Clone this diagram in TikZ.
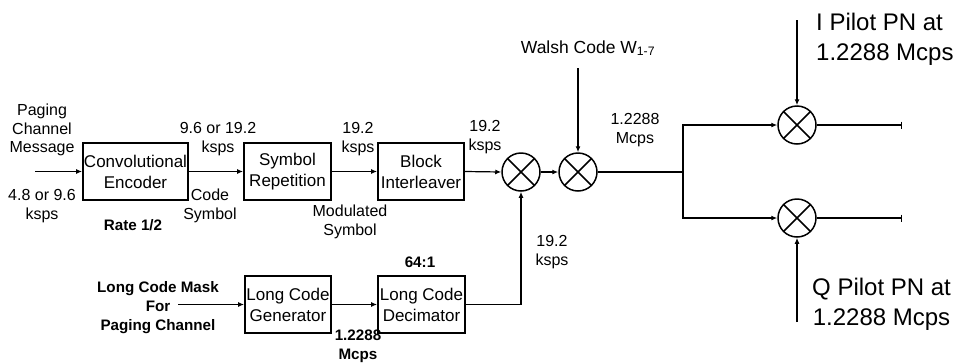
\documentclass[tikz,border=0pt]{standalone}
\usepackage{fontspec}
\setmainfont{Liberation Sans}
\usetikzlibrary{arrows.meta}
\begin{document}
\begin{tikzpicture}[x=1pt,y=-1pt,
  blk/.style={draw, line width=1.7pt, minimum height=57pt, align=center, inner sep=0pt,
    font=\fontsize{17}{21}\selectfont},
  mix/.style={draw, circle, line width=1.5pt, minimum size=38pt, inner sep=0pt,
    path picture={\draw[line width=1.5pt] (path picture bounding box.south west) -- (path picture bounding box.north east)
      (path picture bounding box.north west) -- (path picture bounding box.south east);}},
  lbl/.style={align=center, inner sep=0pt, font=\fontsize{16}{18.5}\selectfont},
  blbl/.style={align=center, inner sep=0pt, font=\fontsize{15.2}{19}\selectfont\bfseries},
  big/.style={align=left, inner sep=0pt, font=\fontsize{24}{30}\selectfont},
  conn/.style={line width=1.2pt},
  arr/.style={conn, -{Latex[length=6pt,width=5pt]}},
  endbar/.style={conn, -{Bar[width=7pt,line width=1.2pt]}}
]
\path[use as bounding box] (0,0) rectangle (961,362);

% top chain
\node[lbl] (pcm) at (42,130) {Paging\\Channel\\Message};
\node[lbl] (inrate) at (42,206) {4.8 or 9.6\\ksps};
\coordinate (inL) at (35,171.5);
\node[blk, minimum width=105pt] (conv) at (135.5,171.5) {Convolutional\\Encoder};
\node[blbl] (rate) at (133,225) {Rate 1/2};
\node[lbl] (r1) at (218,139) {9.6 or 19.2\\ksps};
\node[lbl] (cs) at (210,206) {Code\\Symbol};
\node[blk, minimum width=87pt] (rep) at (287.5,171.5) {Symbol\\Repetition};
\node[lbl] (r2) at (358,139) {19.2\\ksps};
\node[lbl] (ms) at (350,222) {Modulated\\Symbol};
\node[blk, minimum width=86pt] (blkint) at (421,171.5) {Block\\Interleaver};
\node[lbl] (r3) at (485,137) {19.2\\ksps};
\node[mix] (m1) at (521,172) {};
\node[mix] (m2) at (578,172) {};
\node[inner sep=0pt, font=\fontsize{17.5}{20}\selectfont] (walsh) at (588,48) {Walsh Code W\textsubscript{1-7}};
\coordinate (wtop) at (578,68);
\node[lbl] (r4) at (635,130) {1.2288\\Mcps};
\coordinate (jn) at (683,172);
\node[mix] (mI) at (797,125) {};
\node[mix] (mQ) at (797,218) {};
\coordinate (oI) at (902,125);
\coordinate (oQ) at (902,218);
\coordinate (Ipt) at (797,20);
\coordinate (Qpt) at (797,322);
\node[big, anchor=west] (Ilbl) at (816,39) {I Pilot PN at\\1.2288 Mcps};
\node[big, anchor=west, align=center] (Qlbl) at (812,304) {Q Pilot PN at\\1.2288 Mcps};

% bottom chain
\node[blbl] (mask) at (158,308) {Long Code Mask\\For\\Paging Channel};
\coordinate (maskR) at (178,304.5);
\node[blk, minimum width=86pt] (gen) at (288,304.5) {Long Code\\Generator};
\node[blk, minimum width=87pt] (dec) at (421.5,304.5) {Long Code\\Decimator};
\node[blbl] (ratio) at (420,262) {64:1};
\node[blbl] (r5) at (358,346) {1.2288\\Mcps};
\node[lbl] (r6) at (552,252) {19.2\\ksps};

% connectors
\draw[arr] (inL) -- (conv.west);
\draw[arr] (conv.east) -- (rep.west);
\draw[arr] (rep.east) -- (blkint.west);
\draw[arr] (blkint.east) -- (m1.west);
\draw[arr] (m1.east) -- (m2.west);
\draw[arr] (wtop) -- (m2.north);
\draw[conn] (m2.east) -- (jn);
\draw[arr] (jn) |- (mI.west);
\draw[arr] (jn) |- (mQ.west);
\draw[arr] (Ipt) -- (mI.north);
\draw[arr] (Qpt) -- (mQ.south);
\draw[endbar] (mI.east) -- (oI);
\draw[endbar] (mQ.east) -- (oQ);
\draw[arr] (maskR) -- (gen.west);
\draw[arr] (gen.east) -- (dec.west);
\draw[arr] (dec.east) -| (m1.south);
\end{tikzpicture}
\end{document}
